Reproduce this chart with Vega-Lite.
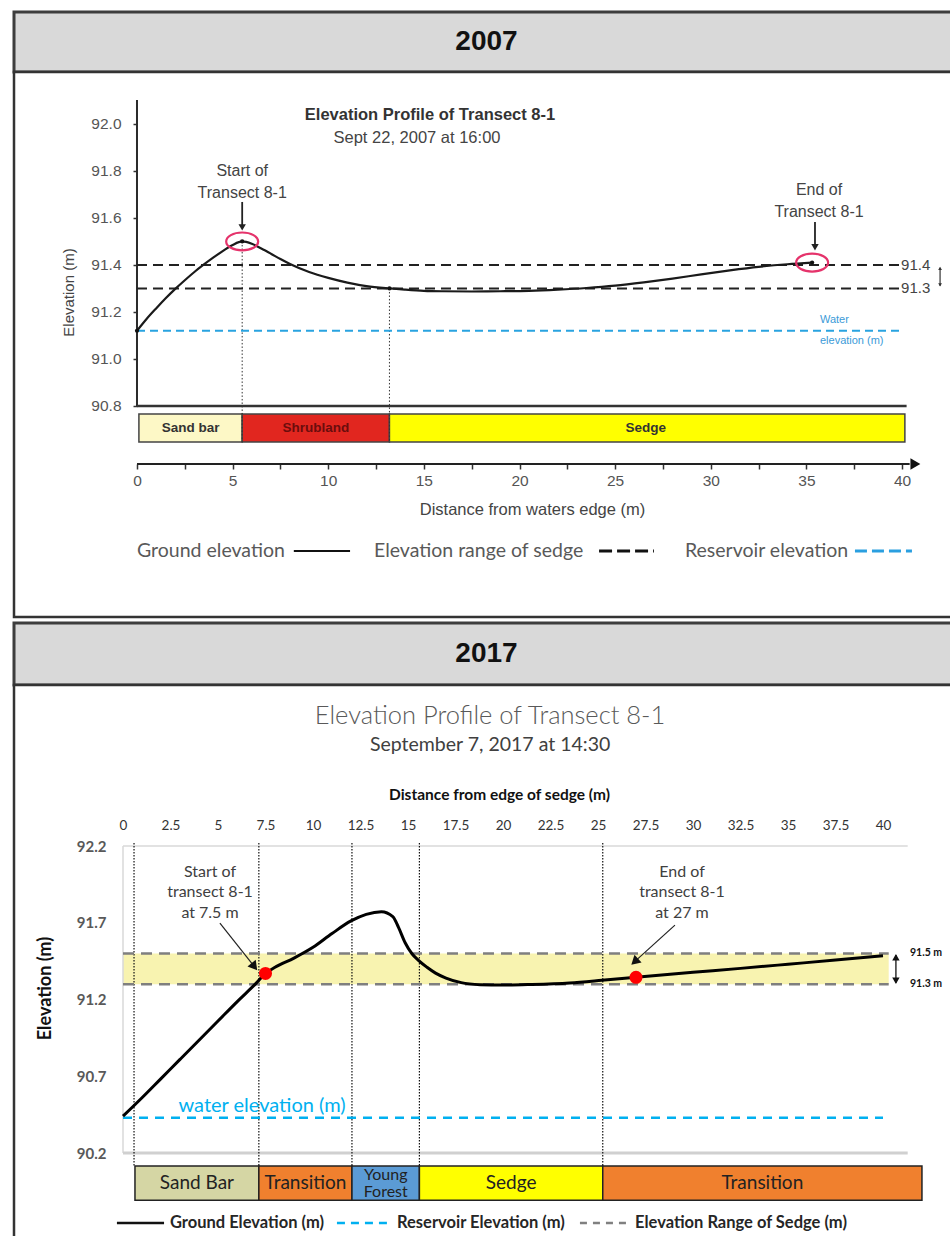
{
  "$schema": "https://vega.github.io/schema/vega-lite/v6.json",
  "background": "white",
  "padding": {"left": 12, "top": 10, "right": 0, "bottom": 0},
  "spacing": 2,
  "config": {"view": {"stroke": null}},
  "datasets": {
    "ground07": [
      {"d": 0, "e": 91.12}, {"d": 0.5, "e": 91.17}, {"d": 1, "e": 91.215}, {"d": 1.5, "e": 91.258},
      {"d": 2, "e": 91.298}, {"d": 2.5, "e": 91.335}, {"d": 3, "e": 91.37}, {"d": 3.5, "e": 91.402},
      {"d": 4, "e": 91.432}, {"d": 4.5, "e": 91.46}, {"d": 5, "e": 91.485}, {"d": 5.5, "e": 91.5},
      {"d": 6, "e": 91.49}, {"d": 6.5, "e": 91.47}, {"d": 7, "e": 91.448}, {"d": 7.5, "e": 91.425},
      {"d": 8, "e": 91.404}, {"d": 9, "e": 91.37}, {"d": 10, "e": 91.345}, {"d": 11, "e": 91.325},
      {"d": 12, "e": 91.31}, {"d": 13.2, "e": 91.3}, {"d": 14, "e": 91.295}, {"d": 15, "e": 91.29},
      {"d": 16, "e": 91.288}, {"d": 17.5, "e": 91.287}, {"d": 19, "e": 91.288}, {"d": 20.5, "e": 91.29},
      {"d": 22, "e": 91.295}, {"d": 23.5, "e": 91.302}, {"d": 25, "e": 91.312}, {"d": 26.5, "e": 91.326},
      {"d": 28, "e": 91.342}, {"d": 29.5, "e": 91.36}, {"d": 31, "e": 91.377}, {"d": 32.5, "e": 91.392},
      {"d": 34, "e": 91.403}, {"d": 35.3, "e": 91.41}
    ],
    "ground17": [
      {"d": 0, "e": 90.44}, {"d": 1, "e": 90.56}, {"d": 2, "e": 90.685}, {"d": 3, "e": 90.81},
      {"d": 4, "e": 90.935}, {"d": 5, "e": 91.06}, {"d": 6, "e": 91.185}, {"d": 7, "e": 91.305},
      {"d": 7.5, "e": 91.37}, {"d": 8, "e": 91.41}, {"d": 9, "e": 91.47}, {"d": 10, "e": 91.54},
      {"d": 11, "e": 91.63}, {"d": 12, "e": 91.712}, {"d": 12.8, "e": 91.755}, {"d": 13.6, "e": 91.772},
      {"d": 14.2, "e": 91.74}, {"d": 14.5, "e": 91.67}, {"d": 14.85, "e": 91.57}, {"d": 15.2, "e": 91.5},
      {"d": 15.55, "e": 91.455}, {"d": 16, "e": 91.41}, {"d": 16.45, "e": 91.372}, {"d": 17, "e": 91.34},
      {"d": 17.8, "e": 91.31}, {"d": 18.8, "e": 91.297}, {"d": 20, "e": 91.294}, {"d": 21.5, "e": 91.298},
      {"d": 23.5, "e": 91.308}, {"d": 25.2, "e": 91.325}, {"d": 27, "e": 91.345}, {"d": 30, "e": 91.377},
      {"d": 32.5, "e": 91.403}, {"d": 35, "e": 91.43}, {"d": 37.5, "e": 91.457}, {"d": 40, "e": 91.485}
    ]
  },
  "vconcat": [
    {
      "spacing": 0,
      "bounds": "flush",
      "vconcat": [
        {
          "width": 945,
          "height": 60,
          "view": {"fill": "#d9d9d9", "stroke": "#3d3d3d", "strokeWidth": 3},
          "data": {"values": [{"year": "2007"}]},
          "mark": {"type": "text", "font": "Liberation Sans", "fontSize": 28, "fontWeight": "bold", "color": "#111111"},
          "encoding": {"text": {"field": "year", "type": "nominal"}}
        },
        {
          "width": 945,
          "height": 545,
          "view": {"fill": "white", "stroke": "#333333", "strokeWidth": 2.5},
          "layer": [
            {
              "data": {"values": [
                {"zone": "Sand bar", "start": 0.1, "end": 5.5, "mid": 2.8},
                {"zone": "Shrubland", "start": 5.5, "end": 13.2, "mid": 9.35},
                {"zone": "Sedge", "start": 13.2, "end": 40.15, "mid": 26.6}
              ]},
              "layer": [
                {
                  "mark": {"type": "rect", "stroke": "#444444", "strokeWidth": 1.5},
                  "encoding": {
                    "x": {"field": "start", "type": "quantitative"},
                    "x2": {"field": "end"},
                    "y": {"datum": 90.766, "type": "quantitative"},
                    "y2": {"datum": 90.647},
                    "color": {"field": "zone", "type": "nominal", "legend": null,
                      "scale": {"domain": ["Sand bar", "Shrubland", "Sedge", "Sand Bar", "Transition", "Young Forest"],
                                "range": ["#fdf8c6", "#e1261f", "#ffff00", "#d5d6a4", "#f0802e", "#5b9bd5"]}}
                  }
                },
                {
                  "mark": {"type": "text", "font": "Liberation Sans", "fontSize": 13.5, "fontWeight": "bold"},
                  "encoding": {
                    "x": {"field": "mid", "type": "quantitative"},
                    "y": {"datum": 90.706, "type": "quantitative"},
                    "text": {"field": "zone", "type": "nominal"},
                    "color": {"condition": {"test": "datum.zone === 'Shrubland'", "value": "#6b0d0d"}, "value": "#333333"}
                  }
                }
              ]
            },
            {
              "data": {"values": [{"d": 5.5, "top": 91.5}, {"d": 13.2, "top": 91.3}]},
              "mark": {"type": "rule", "color": "#333333", "strokeWidth": 1, "strokeDash": [1.5, 2]},
              "encoding": {
                "x": {"field": "d", "type": "quantitative"},
                "y": {"field": "top", "type": "quantitative"},
                "y2": {"datum": 90.647}
              }
            },
            {
              "data": {"values": [{}]},
              "layer": [
                {
                  "mark": {"type": "rule", "color": "#2b2b2b", "strokeWidth": 2},
                  "encoding": {
                    "x": {"datum": 0, "type": "quantitative"},
                    "y": {"datum": 90.8, "type": "quantitative"},
                    "y2": {"datum": 92.102}
                  }
                },
                {
                  "mark": {"type": "rule", "color": "#333333", "strokeWidth": 2.5},
                  "encoding": {
                    "x": {"datum": 0, "type": "quantitative"},
                    "x2": {"datum": 40.24},
                    "y": {"datum": 90.8, "type": "quantitative"}
                  }
                },
                {
                  "mark": {"type": "rule", "color": "#222222", "strokeWidth": 2},
                  "encoding": {
                    "x": {"datum": 0, "type": "quantitative"},
                    "x2": {"datum": 40.4},
                    "y": {"datum": 90.553, "type": "quantitative"}
                  }
                },
                {
                  "mark": {"type": "point", "shape": "triangle-right", "size": 130, "filled": true, "color": "#111111", "opacity": 1},
                  "encoding": {
                    "x": {"datum": 40.7, "type": "quantitative"},
                    "y": {"datum": 90.553, "type": "quantitative"}
                  }
                },
                {
                  "mark": {"type": "rule", "color": "#333333", "strokeWidth": 1.2},
                  "encoding": {
                    "x": {"datum": 41.99, "type": "quantitative"},
                    "y": {"datum": 91.388, "type": "quantitative"},
                    "y2": {"datum": 91.312}
                  }
                },
                {
                  "mark": {"type": "point", "shape": "triangle-up", "size": 14, "filled": true, "color": "#333333", "opacity": 1},
                  "encoding": {
                    "x": {"datum": 41.99, "type": "quantitative"},
                    "y": {"datum": 91.385, "type": "quantitative"}
                  }
                },
                {
                  "mark": {"type": "point", "shape": "triangle-down", "size": 14, "filled": true, "color": "#333333", "opacity": 1},
                  "encoding": {
                    "x": {"datum": 41.99, "type": "quantitative"},
                    "y": {"datum": 91.315, "type": "quantitative"}
                  }
                }
              ]
            },
            {
              "data": {"values": [{"elev": 91.12}]},
              "layer": [
                {
                  "mark": {"type": "rule", "color": "#29a3e0", "strokeWidth": 2, "strokeDash": [8, 5]},
                  "encoding": {
                    "x": {"datum": 0, "type": "quantitative"},
                    "x2": {"datum": 39.9},
                    "y": {"field": "elev", "type": "quantitative"}
                  }
                },
                {
                  "mark": {"type": "text", "align": "left", "baseline": "middle", "dy": -11, "font": "Liberation Sans", "fontSize": 11, "lineHeight": 21, "color": "#3b9bd8"},
                  "encoding": {
                    "x": {"datum": 35.71, "type": "quantitative"},
                    "y": {"field": "elev", "type": "quantitative"},
                    "text": {"value": ["Water", "elevation (m)"]}
                  }
                }
              ]
            },
            {
              "data": {"values": [{"lvl": 91.4, "label": "91.4"}, {"lvl": 91.3, "label": "91.3"}]},
              "layer": [
                {
                  "mark": {"type": "rule", "color": "#222222", "strokeWidth": 2, "strokeDash": [10, 6]},
                  "encoding": {
                    "x": {"datum": 0, "type": "quantitative"},
                    "x2": {"datum": 39.85},
                    "y": {"field": "lvl", "type": "quantitative"}
                  }
                },
                {
                  "mark": {"type": "text", "align": "left", "baseline": "middle", "font": "Liberation Sans", "fontSize": 15, "color": "#444444", "dx": 1},
                  "encoding": {
                    "x": {"datum": 39.9, "type": "quantitative"},
                    "y": {"field": "lvl", "type": "quantitative"},
                    "text": {"field": "label", "type": "nominal"}
                  }
                }
              ]
            },
            {
              "data": {"name": "ground07"},
              "mark": {"type": "line", "interpolate": "monotone", "color": "#1a1a1a", "strokeWidth": 2.2},
              "encoding": {
                "x": {
                  "field": "d", "type": "quantitative",
                  "scale": {"domain": [-6.431, 42.98], "nice": false, "zero": false},
                  "axis": {
                    "orient": "bottom", "offset": -153, "domain": false, "grid": false,
                    "values": [0, 2.5, 5, 7.5, 10, 12.5, 15, 17.5, 20, 22.5, 25, 27.5, 30, 32.5, 35, 37.5, 40],
                    "labelExpr": "datum.value % 5 === 0 ? format(datum.value, 'd') : ''",
                    "ticks": true, "tickSize": 5, "tickColor": "#333333", "tickWidth": 1.5,
                    "labelFont": "Liberation Sans", "labelFontSize": 15.5, "labelColor": "#555555", "labelPadding": 4,
                    "labelFlush": false, "labelOverlap": false,
                    "title": "Distance from waters edge (m)", "titleFont": "Liberation Sans", "titleFontSize": 16.5,
                    "titleFontWeight": "normal", "titleColor": "#444444",
                    "titleX": 518, "titleY": 45, "titleAlign": "center", "titleBaseline": "middle"
                  }
                },
                "y": {
                  "field": "e", "type": "quantitative",
                  "scale": {"domain": [89.902, 92.221], "nice": false, "zero": false},
                  "axis": {
                    "orient": "left", "offset": -123, "domain": false, "grid": false,
                    "values": [90.8, 91.0, 91.2, 91.4, 91.6, 91.8, 92.0], "format": ".1f",
                    "ticks": true, "tickSize": 4, "tickColor": "#333333", "tickWidth": 1.5,
                    "labelFont": "Liberation Sans", "labelFontSize": 15.5, "labelColor": "#555555", "labelPadding": 12,
                    "labelFlush": false, "labelOverlap": false,
                    "title": "Elevation (m)", "titleFont": "Liberation Sans", "titleFontSize": 15,
                    "titleFontWeight": "normal", "titleColor": "#444444",
                    "titleX": -69, "titleY": 220, "titleAngle": -90, "titleAlign": "center", "titleBaseline": "middle"
                  }
                }
              }
            },
            {
              "data": {"values": [{"d": 0, "e": 91.12}, {"d": 5.5, "e": 91.5}, {"d": 13.2, "e": 91.3}, {"d": 35.3, "e": 91.41}]},
              "mark": {"type": "point", "filled": true, "size": 18, "color": "#111111", "opacity": 1},
              "encoding": {
                "x": {"field": "d", "type": "quantitative"},
                "y": {"field": "e", "type": "quantitative"}
              }
            },
            {
              "data": {"values": [{"d": 5.5, "e": 91.5}, {"d": 35.3, "e": 91.41}]},
              "mark": {"type": "point", "shape": "M-1,0A1,0.56,0,1,0,1,0A1,0.56,0,1,0,-1,0Z", "size": 1024, "filled": false, "stroke": "#e5336b", "strokeWidth": 2.2, "opacity": 1},
              "encoding": {
                "x": {"field": "d", "type": "quantitative"},
                "y": {"field": "e", "type": "quantitative"}
              }
            },
            {
              "data": {"values": [
                {"d": 5.5, "e": 91.834, "lines": ["Start of", "Transect 8-1"]},
                {"d": 35.66, "e": 91.753, "lines": ["End of", "Transect 8-1"]}
              ]},
              "mark": {"type": "text", "align": "center", "baseline": "top", "font": "Liberation Sans", "fontSize": 16, "lineHeight": 22, "color": "#444444"},
              "encoding": {
                "x": {"field": "d", "type": "quantitative"},
                "y": {"field": "e", "type": "quantitative"},
                "text": {"field": "lines", "type": "nominal"}
              }
            },
            {
              "data": {"values": [{"d": 5.5, "top": 91.668, "tip": 91.56}, {"d": 35.45, "top": 91.583, "tip": 91.475}]},
              "layer": [
                {
                  "mark": {"type": "rule", "color": "#222222", "strokeWidth": 1.8},
                  "encoding": {
                    "x": {"field": "d", "type": "quantitative"},
                    "y": {"field": "top", "type": "quantitative"},
                    "y2": {"field": "tip"}
                  }
                },
                {
                  "mark": {"type": "point", "shape": "triangle-down", "size": 55, "filled": true, "color": "#222222", "opacity": 1},
                  "encoding": {
                    "x": {"field": "d", "type": "quantitative"},
                    "y": {"field": "tip", "type": "quantitative"}
                  }
                }
              ]
            },
            {
              "data": {"values": [{"t": "Elevation Profile of Transect 8-1", "d": 15.32, "e": 92.038}]},
              "mark": {"type": "text", "font": "Liberation Sans", "fontSize": 16.5, "fontWeight": "bold", "color": "#333333"},
              "encoding": {
                "x": {"field": "d", "type": "quantitative"},
                "y": {"field": "e", "type": "quantitative"},
                "text": {"field": "t", "type": "nominal"}
              }
            },
            {
              "data": {"values": [{"t": "Sept 22, 2007 at 16:00", "d": 14.64, "e": 91.94}]},
              "mark": {"type": "text", "font": "Liberation Sans", "fontSize": 16.5, "color": "#444444"},
              "encoding": {
                "x": {"field": "d", "type": "quantitative"},
                "y": {"field": "e", "type": "quantitative"},
                "text": {"field": "t", "type": "nominal"}
              }
            },
            {
              "data": {"values": [
                {"label": "Ground elevation", "d": 0},
                {"label": "Elevation range of sedge", "d": 12.39},
                {"label": "Reservoir elevation", "d": 28.65}
              ]},
              "mark": {"type": "text", "align": "left", "baseline": "middle", "font": "Lato", "fontSize": 19.5, "color": "#595959"},
              "encoding": {
                "x": {"field": "d", "type": "quantitative"},
                "y": {"datum": 90.183, "type": "quantitative"},
                "text": {"field": "label", "type": "nominal"}
              }
            },
            {
              "data": {"values": [{}]},
              "layer": [
                {
                  "mark": {"type": "rule", "color": "#111111", "strokeWidth": 2},
                  "encoding": {
                    "x": {"datum": 8.2, "type": "quantitative"},
                    "x2": {"datum": 11.14},
                    "y": {"datum": 90.183, "type": "quantitative"}
                  }
                },
                {
                  "mark": {"type": "rule", "color": "#111111", "strokeWidth": 3, "strokeDash": [13, 5]},
                  "encoding": {
                    "x": {"datum": 24.16, "type": "quantitative"},
                    "x2": {"datum": 27.03},
                    "y": {"datum": 90.183, "type": "quantitative"}
                  }
                },
                {
                  "mark": {"type": "rule", "color": "#2a9fe0", "strokeWidth": 3, "strokeDash": [12, 5]},
                  "encoding": {
                    "x": {"datum": 37.54, "type": "quantitative"},
                    "x2": {"datum": 40.52},
                    "y": {"datum": 90.183, "type": "quantitative"}
                  }
                }
              ]
            }
          ]
        }
      ]
    },
    {
      "spacing": 0,
      "bounds": "flush",
      "vconcat": [
        {
          "width": 945,
          "height": 62,
          "view": {"fill": "#d9d9d9", "stroke": "#3d3d3d", "strokeWidth": 3},
          "data": {"values": [{"year": "2017"}]},
          "mark": {"type": "text", "font": "Liberation Sans", "fontSize": 28, "fontWeight": "bold", "color": "#111111"},
          "encoding": {"text": {"field": "year", "type": "nominal"}}
        },
        {
          "width": 945,
          "height": 560,
          "view": {"fill": "white", "stroke": "#333333", "strokeWidth": 2.5},
          "layer": [
            {
              "data": {"values": [{}]},
              "layer": [
                {
                  "mark": {"type": "rect", "color": "#f8f3b0", "opacity": 1},
                  "encoding": {
                    "x": {"datum": 0, "type": "quantitative"},
                    "x2": {"datum": 40.3},
                    "y": {"datum": 91.5, "type": "quantitative"},
                    "y2": {"datum": 91.3}
                  }
                },
                {
                  "mark": {"type": "rule", "color": "#d9d9d9", "strokeWidth": 1.5},
                  "encoding": {
                    "x": {"datum": 0, "type": "quantitative"},
                    "y": {"datum": 90.2, "type": "quantitative"},
                    "y2": {"datum": 92.2}
                  }
                },
                {
                  "mark": {"type": "rule", "color": "#d9d9d9", "strokeWidth": 1.5},
                  "encoding": {
                    "x": {"datum": 0, "type": "quantitative"},
                    "x2": {"datum": 41.3},
                    "y": {"datum": 92.2, "type": "quantitative"}
                  }
                },
                {
                  "mark": {"type": "rule", "color": "#d0d0d0", "strokeWidth": 3},
                  "encoding": {
                    "x": {"datum": 0, "type": "quantitative"},
                    "x2": {"datum": 41.3},
                    "y": {"datum": 90.2, "type": "quantitative"}
                  }
                }
              ]
            },
            {
              "data": {"values": [
                {"zone": "Sand Bar", "label": ["Sand Bar"], "start": 0.63, "end": 7.15, "mid": 3.89},
                {"zone": "Transition", "label": ["Transition"], "start": 7.15, "end": 12.05, "mid": 9.6},
                {"zone": "Young Forest", "label": ["Young", "Forest"], "start": 12.05, "end": 15.6, "mid": 13.83},
                {"zone": "Sedge", "label": ["Sedge"], "start": 15.6, "end": 25.25, "mid": 20.43},
                {"zone": "Transition", "label": ["Transition"], "start": 25.25, "end": 42.05, "mid": 33.65}
              ]},
              "layer": [
                {
                  "mark": {"type": "rect", "stroke": "#222222", "strokeWidth": 1.5},
                  "encoding": {
                    "x": {"field": "start", "type": "quantitative"},
                    "x2": {"field": "end"},
                    "y": {"datum": 90.115, "type": "quantitative"},
                    "y2": {"datum": 89.893},
                    "color": {"field": "zone", "type": "nominal", "legend": null,
                      "scale": {"domain": ["Sand bar", "Shrubland", "Sedge", "Sand Bar", "Transition", "Young Forest"],
                                "range": ["#fdf8c6", "#e1261f", "#ffff00", "#d5d6a4", "#f0802e", "#5b9bd5"]}}
                  }
                },
                {
                  "transform": [{"filter": "datum.zone !== 'Young Forest'"}],
                  "mark": {"type": "text", "font": "Lato", "fontSize": 19, "baseline": "middle", "color": "#222222"},
                  "encoding": {
                    "x": {"field": "mid", "type": "quantitative"},
                    "y": {"datum": 90.004, "type": "quantitative"},
                    "text": {"field": "label", "type": "nominal"}
                  }
                },
                {
                  "transform": [{"filter": "datum.zone === 'Young Forest'"}],
                  "mark": {"type": "text", "font": "Lato", "fontSize": 16, "lineHeight": 17, "baseline": "middle", "dy": -8.5, "color": "#222222"},
                  "encoding": {
                    "x": {"field": "mid", "type": "quantitative"},
                    "y": {"datum": 90.004, "type": "quantitative"},
                    "text": {"field": "label", "type": "nominal"}
                  }
                }
              ]
            },
            {
              "data": {"values": [{"d": 0.58}, {"d": 7.15}, {"d": 12.05}, {"d": 15.6}, {"d": 25.25}]},
              "mark": {"type": "rule", "color": "#111111", "strokeWidth": 1.2, "strokeDash": [1.5, 1.5]},
              "encoding": {
                "x": {"field": "d", "type": "quantitative"},
                "y": {"datum": 92.22, "type": "quantitative"},
                "y2": {"datum": 90.115}
              }
            },
            {
              "data": {"values": [{"lvl": 91.5, "label": "91.5 m"}, {"lvl": 91.3, "label": "91.3 m"}]},
              "layer": [
                {
                  "mark": {"type": "rule", "color": "#7f7f7f", "strokeWidth": 2.5, "strokeDash": [11, 7]},
                  "encoding": {
                    "x": {"datum": 0, "type": "quantitative"},
                    "x2": {"datum": 40.3},
                    "y": {"field": "lvl", "type": "quantitative"}
                  }
                },
                {
                  "mark": {"type": "text", "align": "left", "baseline": "middle", "font": "Lato", "fontSize": 10.5, "fontWeight": "bold", "color": "#111111"},
                  "encoding": {
                    "x": {"datum": 41.42, "type": "quantitative"},
                    "y": {"field": "lvl", "type": "quantitative"},
                    "text": {"field": "label", "type": "nominal"}
                  }
                }
              ]
            },
            {
              "data": {"values": [{}]},
              "layer": [
                {
                  "mark": {"type": "rule", "color": "#111111", "strokeWidth": 1.3},
                  "encoding": {
                    "x": {"datum": 40.68, "type": "quantitative"},
                    "y": {"datum": 91.49, "type": "quantitative"},
                    "y2": {"datum": 91.31}
                  }
                },
                {
                  "mark": {"type": "point", "shape": "triangle-up", "size": 55, "filled": true, "color": "#111111", "opacity": 1},
                  "encoding": {
                    "x": {"datum": 40.68, "type": "quantitative"},
                    "y": {"datum": 91.475, "type": "quantitative"}
                  }
                },
                {
                  "mark": {"type": "point", "shape": "triangle-down", "size": 55, "filled": true, "color": "#111111", "opacity": 1},
                  "encoding": {
                    "x": {"datum": 40.68, "type": "quantitative"},
                    "y": {"datum": 91.322, "type": "quantitative"}
                  }
                }
              ]
            },
            {
              "data": {"values": [{"elev": 90.43}]},
              "layer": [
                {
                  "mark": {"type": "rule", "color": "#00b0f0", "strokeWidth": 2.5, "strokeDash": [9, 7]},
                  "encoding": {
                    "x": {"datum": 0, "type": "quantitative"},
                    "x2": {"datum": 40},
                    "y": {"field": "elev", "type": "quantitative"}
                  }
                },
                {
                  "mark": {"type": "text", "align": "center", "baseline": "bottom", "dy": -2, "font": "Lato", "fontSize": 20, "color": "#00b0f0"},
                  "encoding": {
                    "x": {"datum": 7.32, "type": "quantitative"},
                    "y": {"field": "elev", "type": "quantitative"},
                    "text": {"value": "water elevation (m)"}
                  }
                }
              ]
            },
            {
              "data": {"name": "ground17"},
              "mark": {"type": "line", "interpolate": "monotone", "color": "#000000", "strokeWidth": 3},
              "encoding": {
                "x": {
                  "field": "d", "type": "quantitative",
                  "scale": {"domain": [-5.737, 44.0], "nice": false, "zero": false},
                  "axis": {
                    "orient": "top", "offset": -150, "domain": false, "ticks": false, "tickSize": 0, "grid": false,
                    "values": [0, 2.5, 5, 7.5, 10, 12.5, 15, 17.5, 20, 22.5, 25, 27.5, 30, 32.5, 35, 37.5, 40],
                    "format": ".3~g",
                    "labelFont": "Lato", "labelFontSize": 13.5, "labelColor": "#333333", "labelPadding": 3,
                    "labelFlush": false, "labelOverlap": false,
                    "title": "Distance from edge of sedge (m)", "titleFont": "Lato", "titleFontSize": 15.5,
                    "titleFontWeight": "bold", "titleColor": "#111111",
                    "titleX": 485, "titleY": -41, "titleAlign": "center", "titleBaseline": "middle"
                  }
                },
                "y": {
                  "field": "e", "type": "quantitative",
                  "scale": {"domain": [89.601, 93.249], "nice": false, "zero": false},
                  "axis": {
                    "orient": "left", "offset": -109, "domain": false, "ticks": false, "tickSize": 0, "grid": false,
                    "values": [90.2, 90.7, 91.2, 91.7, 92.2], "format": ".1f",
                    "labelFont": "Lato", "labelFontSize": 15, "labelFontWeight": "bold", "labelColor": "#595959",
                    "labelPadding": 17, "labelFlush": false, "labelOverlap": false,
                    "title": "Elevation (m)", "titleFont": "Lato", "titleFontSize": 18,
                    "titleFontWeight": "bold", "titleColor": "#111111",
                    "titleX": -78, "titleY": 303, "titleAngle": -90, "titleAlign": "center", "titleBaseline": "middle"
                  }
                }
              }
            },
            {
              "data": {"values": [{"d": 7.5, "e": 91.37}, {"d": 27, "e": 91.345}]},
              "mark": {"type": "point", "filled": true, "size": 170, "color": "#ff0000", "opacity": 1},
              "encoding": {
                "x": {"field": "d", "type": "quantitative"},
                "y": {"field": "e", "type": "quantitative"}
              }
            },
            {
              "data": {"values": [
                {"d": 4.58, "e": 92.083, "lines": ["Start of", "transect 8-1", "at 7.5 m"]},
                {"d": 29.42, "e": 92.083, "lines": ["End of", "transect 8-1", "at 27 m"]}
              ]},
              "mark": {"type": "text", "align": "center", "baseline": "top", "font": "Lato", "fontSize": 16, "lineHeight": 20.5, "color": "#404040"},
              "encoding": {
                "x": {"field": "d", "type": "quantitative"},
                "y": {"field": "e", "type": "quantitative"},
                "text": {"field": "lines", "type": "nominal"}
              }
            },
            {
              "data": {"values": [{"x0": 5.1, "y0": 91.698, "x1": 6.916, "y1": 91.414}]},
              "layer": [
                {
                  "mark": {"type": "rule", "color": "#222222", "strokeWidth": 1.2},
                  "encoding": {
                    "x": {"field": "x0", "type": "quantitative"},
                    "y": {"field": "y0", "type": "quantitative"},
                    "x2": {"field": "x1"},
                    "y2": {"field": "y1"}
                  }
                },
                {
                  "mark": {"type": "point", "shape": "triangle-up", "angle": 141.7, "size": 110, "filled": true, "color": "#111111", "opacity": 1},
                  "encoding": {
                    "x": {"field": "x1", "type": "quantitative"},
                    "y": {"field": "y1", "type": "quantitative"}
                  }
                }
              ]
            },
            {
              "data": {"values": [{"x0": 29.05, "y0": 91.685, "x1": 26.93, "y1": 91.447}]},
              "layer": [
                {
                  "mark": {"type": "rule", "color": "#222222", "strokeWidth": 1.2},
                  "encoding": {
                    "x": {"field": "x0", "type": "quantitative"},
                    "y": {"field": "y0", "type": "quantitative"},
                    "x2": {"field": "x1"},
                    "y2": {"field": "y1"}
                  }
                },
                {
                  "mark": {"type": "point", "shape": "triangle-up", "angle": 227.7, "size": 110, "filled": true, "color": "#111111", "opacity": 1},
                  "encoding": {
                    "x": {"field": "x1", "type": "quantitative"},
                    "y": {"field": "y1", "type": "quantitative"}
                  }
                }
              ]
            },
            {
              "data": {"values": [{"t": "Elevation Profile of Transect 8-1", "d": 19.32, "e": 93.047}]},
              "mark": {"type": "text", "font": "Lato", "fontSize": 25.5, "fontWeight": 300, "color": "#595959"},
              "encoding": {
                "x": {"field": "d", "type": "quantitative"},
                "y": {"field": "e", "type": "quantitative"},
                "text": {"field": "t", "type": "nominal"}
              }
            },
            {
              "data": {"values": [{"t": "September 7, 2017 at 14:30", "d": 19.32, "e": 92.858}]},
              "mark": {"type": "text", "font": "Lato", "fontSize": 19.5, "color": "#404040"},
              "encoding": {
                "x": {"field": "d", "type": "quantitative"},
                "y": {"field": "e", "type": "quantitative"},
                "text": {"field": "t", "type": "nominal"}
              }
            },
            {
              "data": {"values": [
                {"label": "Ground Elevation (m)", "d": 2.47},
                {"label": "Reservoir Elevation (m)", "d": 14.42},
                {"label": "Elevation Range of Sedge (m)", "d": 26.95}
              ]},
              "mark": {"type": "text", "align": "left", "baseline": "middle", "font": "Lato", "fontSize": 16.5, "fontWeight": "bold", "color": "#262626"},
              "encoding": {
                "x": {"field": "d", "type": "quantitative"},
                "y": {"datum": 89.744, "type": "quantitative"},
                "text": {"field": "label", "type": "nominal"}
              }
            },
            {
              "data": {"values": [{}]},
              "layer": [
                {
                  "mark": {"type": "rule", "color": "#111111", "strokeWidth": 2.5},
                  "encoding": {
                    "x": {"datum": -0.32, "type": "quantitative"},
                    "x2": {"datum": 2.16},
                    "y": {"datum": 89.744, "type": "quantitative"}
                  }
                },
                {
                  "mark": {"type": "rule", "color": "#00b0f0", "strokeWidth": 2.5, "strokeDash": [8, 6]},
                  "encoding": {
                    "x": {"datum": 11.26, "type": "quantitative"},
                    "x2": {"datum": 13.89},
                    "y": {"datum": 89.744, "type": "quantitative"}
                  }
                },
                {
                  "mark": {"type": "rule", "color": "#808080", "strokeWidth": 2.5, "strokeDash": [7, 6]},
                  "encoding": {
                    "x": {"datum": 24.05, "type": "quantitative"},
                    "x2": {"datum": 26.53},
                    "y": {"datum": 89.744, "type": "quantitative"}
                  }
                }
              ]
            }
          ]
        }
      ]
    }
  ]
}
